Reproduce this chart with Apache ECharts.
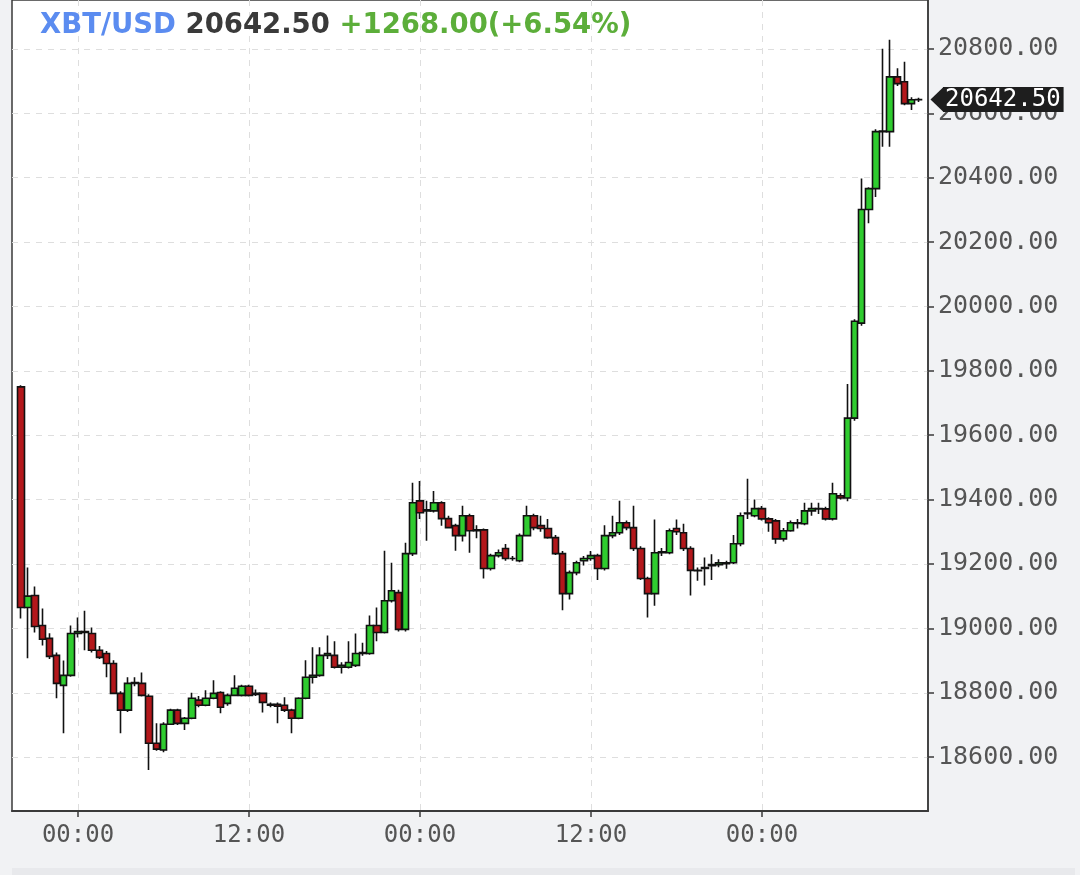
<!DOCTYPE html>
<html>
<head>
<meta charset="utf-8">
<script src="https://cdn.jsdelivr.net/npm/echarts@6/dist/echarts.min.js"></script>
<style>
    html, body { margin: 0; padding: 0; background: #f1f2f4; }
    #chart { width: 1080px; height: 875px; }
</style>
</head>
<body>
<div id="chart"></div>
<script>
    // 30 minute candles
    const opens = [
        19750, 19065, 19102, 19009, 18969, 18916, 18823, 18854, 18984, 18990,
        18984, 18932, 18922, 18891, 18798, 18746, 18829, 18829, 18789, 18643,
        18622, 18702, 18746, 18705, 18721, 18777, 18761, 18783, 18801, 18767,
        18792, 18792, 18820, 18795, 18798, 18761, 18764, 18761, 18746, 18721,
        18783, 18848, 18854, 18916, 18916, 18879, 18879, 18885, 18922, 18922,
        19009, 18987, 19086, 19111, 18997, 19232, 19396, 19365, 19365, 19390,
        19341, 19319, 19288, 19350, 19303, 19306, 19186, 19226, 19248, 19217,
        19210, 19288, 19350, 19319, 19310, 19282, 19232, 19108, 19173, 19210,
        19217, 19226, 19186, 19288, 19297, 19328, 19313, 19248, 19155, 19108,
        19235, 19235, 19310, 19297, 19248, 19180, 19189, 19195, 19198, 19204,
        19204, 19263, 19356, 19350, 19372, 19340, 19334, 19278, 19303, 19328,
        19325, 19365, 19372, 19371, 19340, 19412, 19405, 19653, 19948, 20301,
        20366, 20543, 20543, 20713, 20698, 20630, 20642
    ]
    const closes = [
        19065, 19100, 19006, 18966, 18913, 18829, 18854, 18984, 18990, 18987,
        18932, 18910, 18891, 18798, 18746, 18829, 18832, 18792, 18643, 18625,
        18702, 18746, 18705, 18721, 18783, 18761, 18783, 18798, 18755, 18792,
        18814, 18820, 18792, 18798, 18770, 18764, 18758, 18746, 18721, 18783,
        18848, 18854, 18916, 18922, 18879, 18885, 18894, 18922, 18925, 19009,
        18987, 19086, 19117, 18997, 19232, 19390, 19359, 19368, 19390, 19341,
        19313, 19288, 19350, 19303, 19306, 19186, 19226, 19235, 19217, 19217,
        19288, 19350, 19313, 19310, 19282, 19232, 19108, 19173, 19204, 19217,
        19226, 19186, 19288, 19297, 19328, 19313, 19248, 19155, 19108, 19235,
        19238, 19303, 19300, 19248, 19180, 19179, 19186, 19198, 19204, 19201,
        19263, 19350, 19358, 19372, 19340, 19328, 19278, 19303, 19328, 19326,
        19365, 19372, 19371, 19340, 19418, 19405, 19653, 19954, 20301, 20366,
        20543, 20545, 20713, 20692, 20630, 20642, 20642.5
    ]
    const lows = [
        19031, 18907, 18987, 18947, 18905, 18783, 18674, 18850, 18972, 18932,
        18925, 18905, 18848, 18795, 18674, 18740, 18820, 18788, 18560, 18620,
        18615, 18700, 18700, 18684, 18718, 18755, 18758, 18780, 18736, 18760,
        18790, 18788, 18788, 18790, 18739, 18755, 18705, 18740, 18674, 18718,
        18780, 18829, 18850, 18905, 18875, 18860, 18875, 18880, 18915, 18918,
        18960, 18984, 19080, 18990, 18990, 19225, 19340, 19272, 19360, 19319,
        19310, 19241, 19270, 19235, 19280, 19155, 19180, 19220, 19210, 19210,
        19205, 19285, 19305, 19300, 19278, 19228, 19056, 19090, 19165, 19195,
        19210, 19150, 19180, 19280, 19290, 19305, 19240, 19150, 19034, 19070,
        19225, 19230, 19290, 19240, 19102, 19148, 19133, 19150, 19190, 19185,
        19200, 19255, 19340, 19345, 19335, 19300, 19263, 19270, 19300, 19310,
        19320, 19350, 19355, 19335, 19335, 19400, 19395, 19645, 19940, 20258,
        20340, 20496, 20496, 20685, 20625, 20610, 20635
    ]
    const highs = [
        19755, 19189, 19130, 19062, 18985, 18925, 18900, 19009, 19034, 19055,
        19003, 18945, 18930, 18901, 18805, 18848, 18848, 18863, 18795, 18705,
        18708, 18750, 18750, 18725, 18800, 18790, 18808, 18839, 18805, 18798,
        18854, 18825, 18825, 18810, 18801, 18770, 18770, 18786, 18750, 18786,
        18901, 18941, 18941, 18978, 18960, 18895, 18960, 18984, 18955, 19040,
        19065, 19241, 19204, 19120, 19266, 19452, 19458, 19396, 19427, 19395,
        19350, 19325, 19381, 19356, 19320, 19310, 19232, 19245, 19262, 19225,
        19295, 19381, 19356, 19350, 19340, 19290, 19240, 19180, 19210, 19225,
        19240, 19232, 19320, 19350, 19396, 19335, 19381, 19255, 19160, 19338,
        19250, 19310, 19338, 19325, 19255, 19189, 19220, 19230, 19215, 19210,
        19290, 19360, 19465, 19400, 19380, 19345, 19340, 19312, 19335, 19340,
        19390, 19390, 19390, 19378, 19452, 19420, 19759, 19960, 20397, 20370,
        20550, 20800, 20828, 20740, 20760, 20650, 20648
    ]

    // x ticks sit on candle indexes
    const timeTickIdx = [8, 32, 56, 80, 104]
    const timeTickLabels = ['00:00', '12:00', '00:00', '12:00', '00:00']
    const priceTicks = [18600, 18800, 19000, 19200, 19400, 19600, 19800, 20000, 20200, 20400, 20600, 20800]

    const pair = 'XBT/USD'
    const lastPrice = 20642.5
    const change = 1268.0
    const changePct = 6.54

    const xMin = -1.263
    const xMax = 127.3
    const monoFont = 'DejaVu Sans Mono'
    const candles = opens.map((o, i) => [i, o, closes[i], lows[i], highs[i]])

    const myChart = echarts.init(document.getElementById('chart'))
    const option = {
        backgroundColor: '#f1f2f4',
        animation: false,
        title: {
            left: 40,
            top: 12,
            padding: 0,
            text: '{a|' + pair + '} {b|' + lastPrice.toFixed(2) + '} {c|+' + change.toFixed(2) + '(+' + changePct.toFixed(2) + '%)}',
            textStyle: {
                fontFamily: 'DejaVu Sans',
                fontSize: 27.5,
                fontWeight: 'bold',
                rich: {
                    a: { color: '#5b8cf0', fontFamily: 'DejaVu Sans', fontSize: 27.5, fontWeight: 'bold' },
                    b: { color: '#3a3a3a', fontFamily: 'DejaVu Sans', fontSize: 27.5, fontWeight: 'bold' },
                    c: { color: '#5cae3a', fontFamily: 'DejaVu Sans', fontSize: 27.5, fontWeight: 'bold' }
                }
            }
        },
        graphic: [
            { type: 'rect', shape: { x: 12, y: 868, width: 1063, height: 7 }, style: { fill: '#e8e9ec' }, silent: true }
        ],
        grid: {
            left: 12,
            right: 152,
            top: -2,
            bottom: 64,
            show: true,
            backgroundColor: '#ffffff',
            borderColor: '#3a3a3a',
            borderWidth: 1.5
        },
        xAxis: {
            type: 'value',
            min: xMin,
            max: xMax,
            axisLine: { show: true, onZero: false, lineStyle: { color: '#3a3a3a', width: 2 } },
            axisTick: { show: true, customValues: timeTickIdx, length: 6, lineStyle: { color: '#3a3a3a', width: 1.5 } },
            axisLabel: {
                customValues: timeTickIdx,
                formatter: v => timeTickLabels[timeTickIdx.indexOf(v)],
                color: '#555',
                fontFamily: monoFont,
                fontSize: 24,
                margin: 13
            },
            splitLine: { show: true, lineStyle: { color: '#dedede', width: 1, type: [6, 6] } }
        },
        yAxis: {
            type: 'value',
            position: 'right',
            min: 18432.7,
            max: 20951.8,
            axisLine: { show: true, onZero: false, lineStyle: { color: '#3a3a3a', width: 1.5 } },
            axisTick: { show: true, customValues: priceTicks, length: 6, lineStyle: { color: '#3a3a3a', width: 1.5 } },
            axisLabel: {
                customValues: priceTicks,
                formatter: v => v.toFixed(2),
                color: '#555',
                fontFamily: monoFont,
                fontSize: 25,
                margin: 10
            },
            splitLine: { show: true, lineStyle: { color: '#dedede', width: 1, type: [6, 6] } }
        },
        series: [
            {
                type: 'candlestick',
                data: candles,
                encode: { x: 0, y: [1, 2, 3, 4] },
                barWidth: 7,
                itemStyle: {
                    color: '#2fcc2f',
                    color0: '#b3171b',
                    borderColor: '#111',
                    borderColor0: '#111',
                    borderWidth: 1.6
                },
                markPoint: {
                    silent: true,
                    symbol: 'triangle',
                    symbolRotate: 90,
                    symbolSize: [25, 13],
                    symbolOffset: [9, 0],
                    itemStyle: { color: '#1e1e1e' },
                    label: { show: false },
                    data: [{ coord: [xMax, lastPrice] }]
                },
                markLine: {
                    silent: true,
                    symbol: ['none', 'none'],
                    lineStyle: { color: 'rgba(0,0,0,0)', width: 0 },
                    data: [{ yAxis: lastPrice }],
                    label: {
                        show: true,
                        position: 'end',
                        distance: 15,
                        formatter: '{box|' + lastPrice.toFixed(2) + '}',
                        rich: {
                            box: {
                                color: '#fff',
                                backgroundColor: '#1e1e1e',
                                fontFamily: monoFont,
                                fontSize: 24,
                                lineHeight: 25,
                                padding: [1, 3, 0, 2]
                            }
                        }
                    }
                }
            }
        ]
    }
    myChart.setOption(option)
</script>
</body>
</html>
